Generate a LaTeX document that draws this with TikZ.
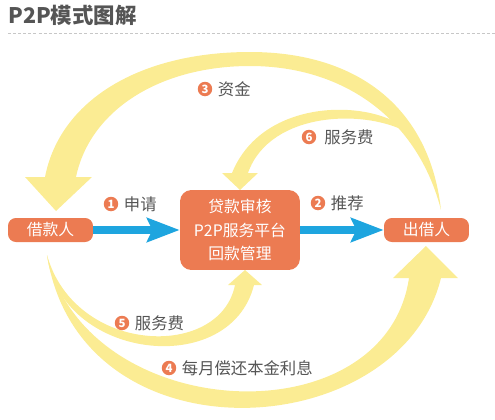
\documentclass[tikz,border=0pt]{standalone}
\usepackage{fontspec}
\setmainfont{Noto Sans CJK SC}
\usetikzlibrary{positioning,arrows.meta}

\definecolor{p2porange}{HTML}{EC7B52}
\definecolor{p2pyellow}{HTML}{FBEC93}
\definecolor{p2pblue}{HTML}{1EA5DF}
\definecolor{p2pgray}{HTML}{555555}

\begin{document}
\begin{tikzpicture}[x=0.02cm,y=-0.02cm,
    party/.style={fill=p2porange, rounded corners=4.5pt, text=white, inner sep=0pt,
        minimum height=0.48cm, font=\fontsize{9}{11}\selectfont},
    numdot/.style={circle, fill=p2porange, text=white, inner sep=0pt, minimum size=0.29cm,
        font=\fontsize{6.5}{7}\selectfont\bfseries},
    lbl/.style={text=p2pgray, inner sep=0pt, font=\fontsize{9.3}{11}\selectfont},
    yband/.style={fill=p2pyellow},
    bluearrow/.style={draw=p2pblue, line width=4.5pt,
        -{Stealth[length=18.5pt, width=13.6pt, inset=3pt]}}]
    \useasboundingbox (0,0) rectangle (495,420);

    % title
    \node[anchor=west, text=p2pgray, inner sep=0pt, font=\fontsize{12.2}{14}\selectfont\bfseries] (title) at (8,15) {P2P模式图解};
    \draw[black!22, line width=0.5pt, dash pattern=on 1.7pt off 1.2pt] (8,33) -- (495,33);

    % yellow flows
    \fill[yband] (441,210) .. controls (430,110) and (360,52) .. (250,52)
        .. controls (140,52) and (60,100) .. (45,177) -- (25,177) -- (56,211) -- (92,177) -- (76,177)
        .. controls (90,110) and (160,66) .. (250,66)
        .. controls (345,66) and (418,120) .. (441,210) -- cycle;
    \fill[yband] (412,135) .. controls (385,100) and (265,92) .. (232,173)
        -- (222,173) -- (240,190) -- (258,173) -- (248,173)
        .. controls (270,110) and (370,108) .. (412,135) -- cycle;
    \fill[yband] (47,255) .. controls (60,360) and (230,380) .. (254,285)
        -- (262,285) -- (245,270) -- (228,285) -- (235,285)
        .. controls (220,360) and (75,355) .. (47,255) -- cycle;
    \fill[yband] (47,255) .. controls (80,465) and (400,445) .. (441,278)
        -- (458,278) -- (426,246) -- (393,278) -- (409,278)
        .. controls (385,440) and (85,425) .. (47,255) -- cycle;

    % parties
    \node[party, minimum width=1.7cm] (borrower) at (50.5,230) {借款人};
    \node[party, minimum width=2.4cm, minimum height=1.6cm, rounded corners=6.5pt, align=center,
        font=\fontsize{9}{13.6}\selectfont] (platform) at (240,230) {贷款审核\\P2P服务平台\\回款管理};
    \node[party, minimum width=1.7cm] (lender) at (426.5,230) {出借人};

    \draw[bluearrow] (borrower) -- (platform);
    \draw[bluearrow] (platform) -- (lender);

    % step labels
    \node[numdot] (n1) at (111,204) {1};
    \node[lbl, right=0.1cm of n1] (l1) {申请};
    \node[numdot] (n2) at (318,203) {2};
    \node[lbl, right=0.1cm of n2] (l2) {推荐};
    \node[numdot] (n3) at (205,89) {3};
    \node[lbl, right=0.1cm of n3] (l3) {资金};
    \node[numdot] (n4) at (169,368) {4};
    \node[lbl, right=0.1cm of n4] (l4) {每月偿还本金利息};
    \node[numdot] (n5) at (122,323) {5};
    \node[lbl, right=0.1cm of n5] (l5) {服务费};
    \node[numdot] (n6) at (309,137) {6};
    \node[lbl, right=0.15cm of n6] (l6) {服务费};
\end{tikzpicture}
\end{document}
